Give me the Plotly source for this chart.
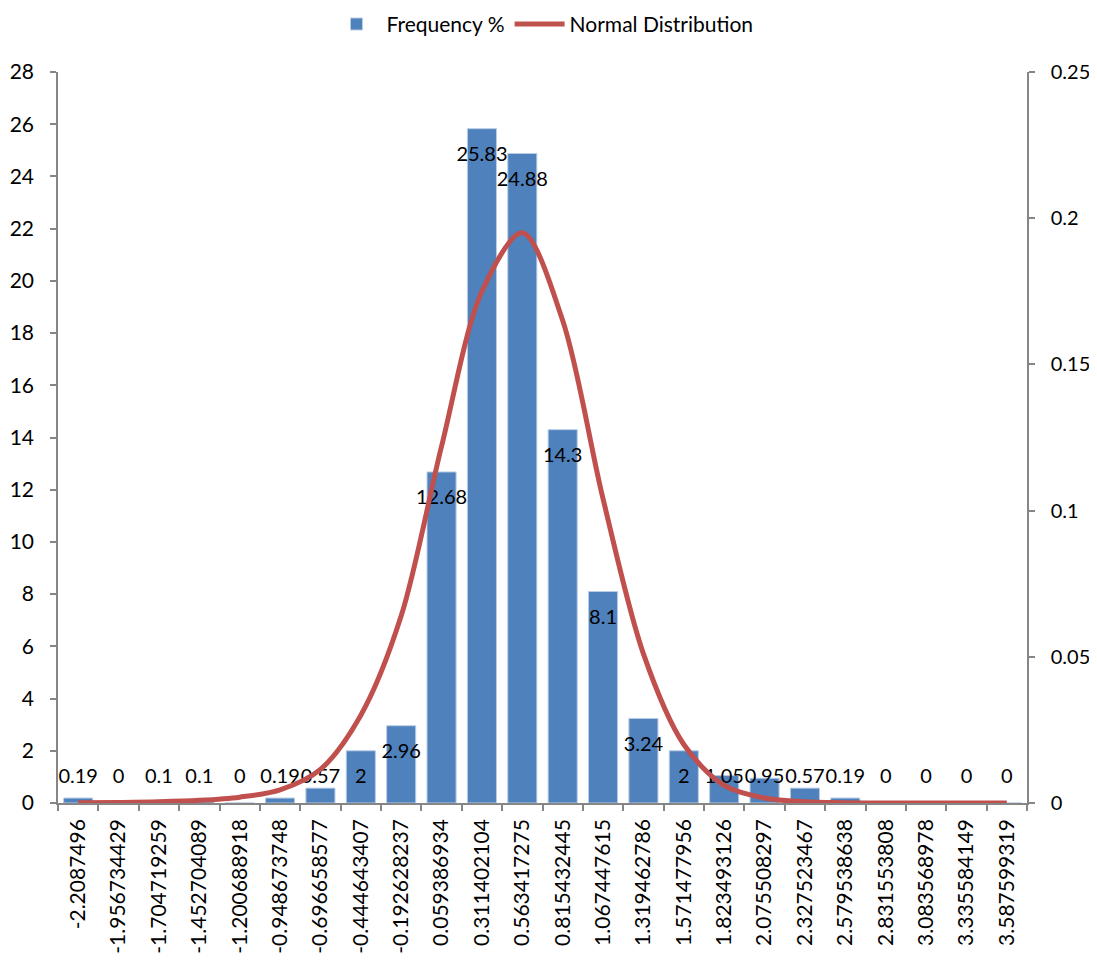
import plotly.graph_objects as go

categories = ["-2.2087496", "-1.956734429", "-1.704719259", "-1.452704089", "-1.200688918",
              "-0.948673748", "-0.696658577", "-0.444643407", "-0.192628237", "0.059386934",
              "0.311402104", "0.563417275", "0.815432445", "1.067447615", "1.319462786",
              "1.571477956", "1.823493126", "2.075508297", "2.327523467", "2.579538638",
              "2.831553808", "3.083568978", "3.335584149", "3.587599319"]

frequency = [0.19, 0, 0.1, 0.1, 0, 0.19, 0.57, 2, 2.96, 12.68, 25.83, 24.88,
             14.3, 8.1, 3.24, 2, 1.05, 0.95, 0.57, 0.19, 0, 0, 0, 0]

normal = [0.0001, 0.0002, 0.0004, 0.0009, 0.0020, 0.0045, 0.0115, 0.0300, 0.0640,
          0.1220, 0.1750, 0.1950, 0.1650, 0.1040, 0.0510, 0.0200, 0.0060, 0.0017,
          0.0004, 0.0001, 0.0000, 0.0000, 0.0000, 0.0000]

label_text = [("%g" % v) for v in frequency]
label_y = [max(v - 1.05, 0.97) for v in frequency]

FONT = "Lato"

fig = go.Figure()
fig.add_trace(go.Bar(
    x=categories, y=frequency, name="Frequency %",
    marker=dict(color="#4F81BD", line=dict(color="#B9CDE5", width=1)),
    yaxis="y",
))
fig.add_trace(go.Scatter(
    x=categories, y=label_y, text=label_text, mode="text",
    textposition="middle center", textfont=dict(family=FONT, size=20, color="#000000"),
    showlegend=False, hoverinfo="skip", yaxis="y",
))
fig.add_trace(go.Scatter(
    x=categories, y=normal, name="Normal Distribution", mode="lines",
    line=dict(color="#C0504D", width=5, shape="spline", smoothing=0.9),
    yaxis="y2",
))

def axis_common(size):
    return dict(
        showgrid=False, zeroline=False, showline=True, linecolor="#868686", linewidth=1.5,
        ticks="outside", tickcolor="#868686", ticklen=6, tickwidth=1.5,
        tickfont=dict(family=FONT, size=size, color="#000000"),
    )

fig.update_layout(
    width=1097, height=962,
    margin=dict(l=50, r=78, t=64, b=167, autoexpand=False),
    plot_bgcolor="white", paper_bgcolor="white",
    bargap=0.28,
    font=dict(family=FONT, size=20, color="#000000"),
    legend=dict(orientation="h", x=0.5, xanchor="center", y=0.983, yref="container",
                yanchor="middle", font=dict(family=FONT, size=21), traceorder="normal",
                itemwidth=50),
    xaxis=dict(type="category", tickangle=-90, tickson="boundaries",
               range=[-0.5, len(categories) - 0.5], automargin=False,
               ticklabelstandoff=6, **axis_common(21)),
    yaxis=dict(range=[0, 28], dtick=2, automargin=False, ticklabelstandoff=12,
               **axis_common(21)),
    yaxis2=dict(range=[0, 0.25], dtick=0.05, overlaying="y", side="right",
                automargin=False, ticklabelstandoff=12, **axis_common(20)),
)

fig.write_html("out.html")
